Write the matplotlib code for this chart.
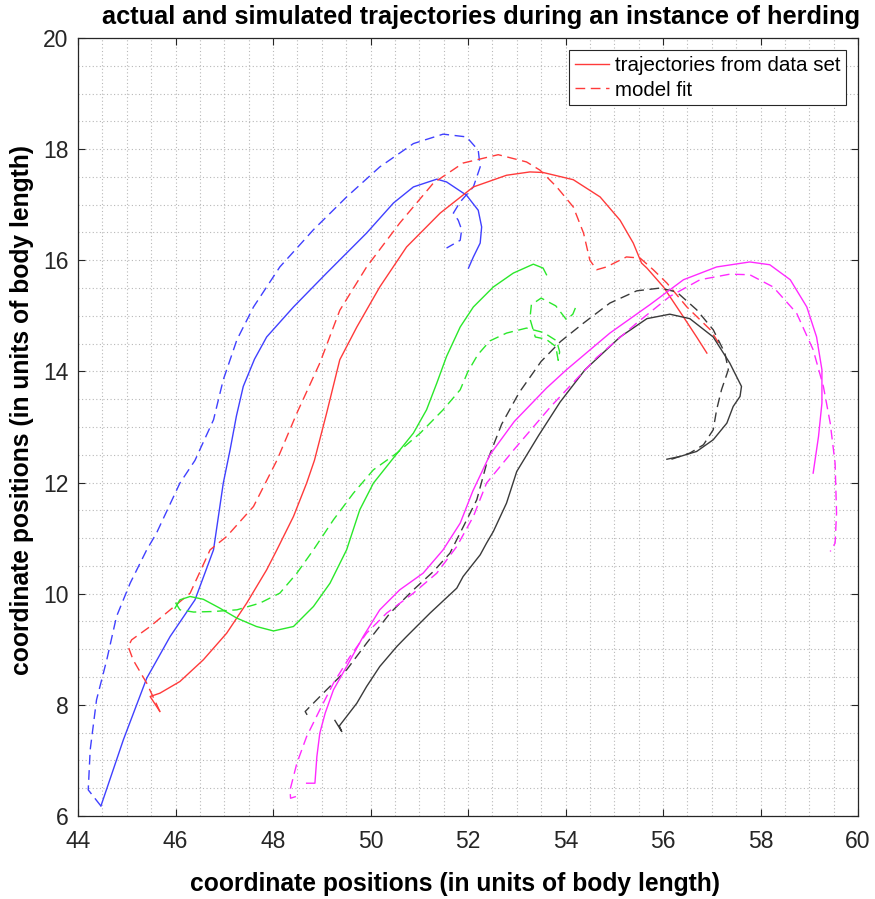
import matplotlib
matplotlib.use("Agg")
import matplotlib.pyplot as plt
from matplotlib.ticker import MultipleLocator

plt.rcParams['font.family'] = ['Liberation Sans', 'DejaVu Sans']

# ---- data ----
blue_x = [44.47, 44.93, 45.41, 45.89, 46.40, 46.78, 46.98, 47.12, 47.25, 47.39, 47.62, 47.87, 48.42, 49.10, 49.92, 50.47, 50.88, 51.36, 51.56, 51.97, 52.21, 52.28, 52.25, 52.11, 52.01]
blue_y = [6.18, 7.37, 8.48, 9.23, 9.89, 10.79, 11.99, 12.59, 13.20, 13.73, 14.22, 14.62, 15.16, 15.77, 16.49, 17.03, 17.32, 17.46, 17.41, 17.17, 16.90, 16.60, 16.31, 16.06, 15.86]
blue_fit_x = [44.47, 44.21, 44.25, 44.38, 44.59, 44.79, 45.07, 45.41, 45.61, 46.09, 46.40, 46.78, 46.98, 47.26, 47.60, 48.14, 48.83, 49.51, 50.19, 50.88, 51.49, 51.97, 52.21, 52.25, 52.11, 51.84, 51.70, 51.80, 51.87, 51.84, 51.56]
blue_fit_y = [6.18, 6.47, 7.19, 8.09, 8.81, 9.59, 10.19, 10.79, 11.09, 11.99, 12.40, 13.13, 13.85, 14.57, 15.16, 15.88, 16.55, 17.14, 17.68, 18.10, 18.27, 18.22, 17.98, 17.68, 17.32, 17.05, 16.85, 16.72, 16.55, 16.36, 16.22]

red_x = [45.68, 45.48, 45.68, 46.09, 46.57, 47.05, 47.46, 47.87, 48.08, 48.42, 48.69, 48.85, 49.10, 49.37, 49.72, 50.19, 50.74, 51.43, 52.11, 52.79, 53.27, 53.54, 54.16, 54.71, 55.12, 55.39, 55.56, 55.67, 56.01, 56.42, 56.69, 56.90]
red_y = [7.88, 8.15, 8.21, 8.42, 8.81, 9.29, 9.83, 10.43, 10.79, 11.39, 11.99, 12.40, 13.25, 14.21, 14.80, 15.52, 16.24, 16.85, 17.32, 17.53, 17.59, 17.58, 17.45, 17.14, 16.72, 16.31, 15.95, 15.86, 15.52, 14.98, 14.62, 14.33]
red_fit_x = [45.68, 45.41, 45.13, 45.03, 45.10, 45.48, 45.85, 46.30, 46.71, 47.05, 47.60, 48.08, 48.49, 48.96, 49.37, 49.92, 50.60, 51.29, 51.90, 52.62, 53.20, 53.48, 53.82, 54.16, 54.37, 54.50, 54.64, 54.84, 55.25, 55.53, 55.80, 56.08, 56.49, 56.97, 57.15]
red_fit_y = [7.88, 8.39, 8.81, 9.05, 9.17, 9.41, 9.68, 10.01, 10.79, 11.03, 11.57, 12.40, 13.25, 14.15, 15.10, 15.88, 16.67, 17.39, 17.75, 17.90, 17.77, 17.62, 17.32, 16.96, 16.49, 16.00, 15.83, 15.88, 16.06, 16.04, 15.83, 15.59, 15.16, 14.75, 14.50]

green_x = [45.99, 46.09, 46.30, 46.57, 46.91, 47.26, 47.66, 48.01, 48.42, 48.83, 49.17, 49.51, 49.78, 50.06, 50.45, 50.88, 51.15, 51.36, 51.56, 51.84, 52.11, 52.52, 52.93, 53.34, 53.54, 53.61]
green_y = [9.74, 9.89, 9.95, 9.90, 9.74, 9.56, 9.41, 9.33, 9.41, 9.77, 10.19, 10.79, 11.51, 11.99, 12.42, 12.89, 13.31, 13.79, 14.27, 14.80, 15.16, 15.52, 15.77, 15.93, 15.86, 15.74]
green_fit_x = [46.00, 46.09, 46.37, 46.78, 47.26, 47.73, 48.14, 48.49, 48.83, 49.24, 49.65, 50.06, 50.54, 51.02, 51.49, 51.84, 52.00, 52.20, 52.45, 52.79, 53.20, 53.55, 53.82, 53.88, 53.85, 53.80, 53.60, 53.38, 53.27, 53.30, 53.50, 53.80, 54.02, 54.15, 54.23]
green_fit_y = [9.84, 9.71, 9.67, 9.68, 9.71, 9.83, 10.01, 10.37, 10.79, 11.33, 11.81, 12.23, 12.53, 12.89, 13.31, 13.67, 14.00, 14.30, 14.55, 14.69, 14.78, 14.70, 14.55, 14.35, 14.20, 14.45, 14.58, 14.62, 14.95, 15.20, 15.32, 15.18, 14.93, 15.03, 15.20]

black_x = [49.27, 49.41, 49.36, 49.72, 49.92, 50.19, 50.54, 50.74, 51.22, 51.77, 51.90, 52.25, 52.38, 52.52, 52.79, 53.00, 53.45, 53.89, 54.40, 55.12, 55.67, 56.14, 56.55, 57.03, 57.37, 57.61, 57.58, 57.44, 57.31, 57.03, 56.69, 56.35, 56.08]
black_y = [7.72, 7.52, 7.62, 8.03, 8.33, 8.69, 9.05, 9.23, 9.65, 10.10, 10.31, 10.70, 10.91, 11.12, 11.63, 12.20, 12.85, 13.45, 14.03, 14.62, 14.95, 15.03, 14.95, 14.62, 14.15, 13.73, 13.55, 13.37, 13.07, 12.77, 12.56, 12.47, 12.42]
black_fit_x = [48.70, 48.66, 49.03, 49.51, 49.92, 50.40, 50.88, 51.29, 51.63, 51.90, 52.18, 52.40, 52.69, 53.05, 53.50, 53.90, 54.37, 54.91, 55.46, 55.94, 56.28, 56.69, 57.03, 57.27, 57.34, 57.20, 57.10, 57.03, 56.83, 56.55, 56.14]
black_fit_y = [7.82, 7.88, 8.21, 8.63, 9.11, 9.65, 10.07, 10.40, 10.73, 11.20, 11.69, 12.40, 13.05, 13.62, 14.18, 14.54, 14.87, 15.23, 15.45, 15.50, 15.43, 15.11, 14.75, 14.33, 14.03, 13.67, 13.31, 12.95, 12.68, 12.53, 12.41]

mag_x = [48.69, 48.86, 48.90, 48.96, 49.07, 49.24, 49.51, 49.85, 50.19, 50.60, 51.08, 51.49, 51.84, 52.10, 52.45, 52.95, 53.61, 54.02, 54.91, 55.73, 56.42, 57.10, 57.78, 58.19, 58.61, 58.95, 59.15, 59.26, 59.26, 59.19, 59.08]
mag_y = [6.59, 6.59, 7.07, 7.49, 7.85, 8.27, 8.69, 9.23, 9.71, 10.07, 10.37, 10.79, 11.27, 11.85, 12.50, 13.10, 13.70, 14.03, 14.69, 15.20, 15.65, 15.88, 15.97, 15.92, 15.65, 15.16, 14.62, 14.03, 13.43, 12.83, 12.17]
mag_fit_x = [48.47, 48.36, 48.35, 48.49, 48.69, 48.96, 49.24, 49.58, 49.92, 50.33, 50.88, 51.36, 51.77, 52.11, 52.38, 52.95, 53.70, 54.64, 55.46, 56.14, 56.76, 57.37, 57.78, 58.26, 58.74, 59.08, 59.29, 59.43, 59.53, 59.56, 59.53, 59.43]
mag_fit_y = [6.35, 6.32, 6.47, 6.95, 7.43, 7.91, 8.39, 8.87, 9.29, 9.65, 10.01, 10.37, 10.85, 11.39, 11.99, 12.60, 13.37, 14.25, 14.87, 15.35, 15.65, 15.75, 15.74, 15.52, 15.05, 14.39, 13.73, 13.07, 12.35, 11.45, 10.91, 10.76]

legend_labels = ['trajectories from data set', 'model fit']
title_text = 'actual and simulated trajectories during an instance of herding'
xlabel_text = 'coordinate positions (in units of body length)'
ylabel_text = 'coordinate positions (in units of body length)'

# ---- figure ----
fig = plt.figure(figsize=(8.75, 8.99), dpi=100)
ax = fig.add_axes([78/875, 1 - 816/899, (858-78)/875, (816-38)/899])

dash = (0, (7, 4))
lw = 1.0
series = [
    (blue_x, blue_y, blue_fit_x, blue_fit_y, '#4040ff'),
    (red_x, red_y, red_fit_x, red_fit_y, '#ff3a3a'),
    (green_x, green_y, green_fit_x, green_fit_y, '#2ae82a'),
    (black_x, black_y, black_fit_x, black_fit_y, '#3a3a3a'),
    (mag_x, mag_y, mag_fit_x, mag_fit_y, '#ff2aff'),
]
handles = []
for sx, sy, fx, fy, c in series:
    h1, = ax.plot(sx, sy, color=c, lw=lw, solid_joinstyle='round')
    h2, = ax.plot(fx, fy, color=c, lw=lw, linestyle=dash)
    handles.append((h1, h2))

ax.set_xlim(44, 60)
ax.set_ylim(6, 20)
ax.xaxis.set_major_locator(MultipleLocator(2))
ax.yaxis.set_major_locator(MultipleLocator(2))
ax.xaxis.set_minor_locator(MultipleLocator(0.5))
ax.yaxis.set_minor_locator(MultipleLocator(0.5))
ax.grid(which='major', color='#b8b8b8', linestyle=(0, (1, 2.2)), lw=0.8)
ax.grid(which='minor', color='#b8b8b8', linestyle=(0, (1, 2.2)), lw=0.8)
ax.set_axisbelow(True)
ax.tick_params(axis='x', which='major', pad=10)
ax.tick_params(axis='y', which='major', pad=7)
ax.tick_params(which='major', direction='in', length=5, width=0.8, color='#262626',
               top=True, right=True, labelsize=16.5, labelcolor='#262626')
ax.tick_params(which='minor', length=0, top=True, right=True)
for s in ax.spines.values():
    s.set_color('#262626')
    s.set_linewidth(0.9)

ax.set_title(title_text, fontsize=18.3, fontweight='bold', pad=10, x=0.517)
ax.set_xlabel(xlabel_text, fontsize=17.7, fontweight='bold', labelpad=14, x=0.483)
ax.set_ylabel(ylabel_text, fontsize=17.7, fontweight='bold', labelpad=6, y=0.522)

leg = ax.legend([handles[1][0], handles[1][1]], legend_labels, loc='upper right',
                bbox_to_anchor=(1 - 12/780, 1 - 12/778), borderaxespad=0,
                fancybox=False, framealpha=1, edgecolor='#262626', fontsize=14.8,
                handlelength=1.65, handletextpad=0.3, borderpad=0.28, labelspacing=0.28)
leg.get_frame().set_linewidth(0.8)

fig.savefig('out.png', dpi=100)
